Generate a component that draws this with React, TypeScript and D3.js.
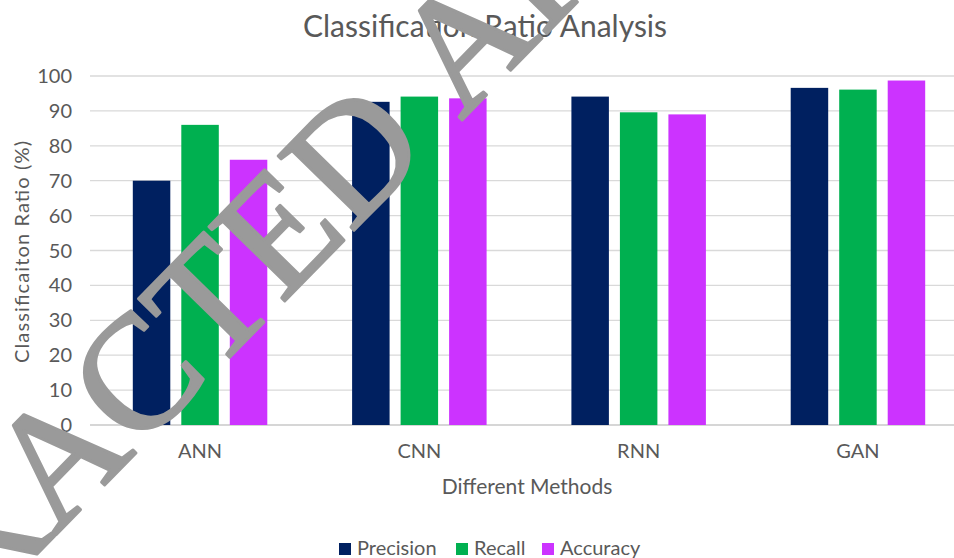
import React from 'react';
import * as d3 from 'd3';

const categories = ['ANN', 'CNN', 'RNN', 'GAN'];
const seriesNames = ['Precision', 'Recall', 'Accuracy'];
const precision = [70, 92.6, 94.1, 96.6];
const recall = [86, 94.1, 89.6, 96.1];
const accuracy = [76, 93.6, 89, 98.7];
const yTicks = [0, 10, 20, 30, 40, 50, 60, 70, 80, 90, 100];
const seriesColors = ['#002060', '#00B050', '#CC33FF'];

const W = 954;
const H = 558;
const FONT = 'Lato, "Open Sans", sans-serif';
const TEXT = '#595959';
const STAMP_SIZE = 162;

export default function App() {
  const series = [precision, recall, accuracy];
  const y = d3.scaleLinear().domain([0, 100]).range([425, 76]);
  const x0 = d3.scaleBand<string>().domain(categories).range([90.4, 967.6]).padding(0);
  const groupW = 145.5;
  const x1 = d3
    .scaleBand<string>()
    .domain(seriesNames)
    .range([0, groupW])
    .paddingInner(0.227)
    .paddingOuter(0.1135);
  const groupOffset = (x0.bandwidth() - groupW) / 2;

  const legendItems = [
    { name: 'Precision', x: 339 },
    { name: 'Recall', x: 456 },
    { name: 'Accuracy', x: 542 },
  ];

  return (
    <svg
      width={W}
      height={H}
      viewBox={`0 0 ${W} ${H}`}
      style={{ position: 'absolute', left: 0, top: 0, background: '#fff' }}
    >
      <rect x={0} y={0} width={W} height={H} fill="#fff" />

      {/* title */}
      <text x={485} y={37} textAnchor="middle" fontFamily={FONT} fontSize={30} fill={TEXT}>
        Classification Ratio Analysis
      </text>

      {/* gridlines */}
      {yTicks.map((t) => (
        <line
          key={`g${t}`}
          x1={90}
          x2={W}
          y1={y(t)}
          y2={y(t)}
          stroke={t === 0 ? '#c9c9c9' : '#d9d9d9'}
          strokeWidth={1.3}
        />
      ))}

      {/* y tick labels */}
      {yTicks.map((t) => (
        <text
          key={`t${t}`}
          x={72}
          y={y(t) + 7}
          textAnchor="end"
          fontFamily={FONT}
          fontSize={20}
          fill={TEXT}
        >
          {t}
        </text>
      ))}

      {/* bars */}
      {categories.map((c, ci) => (
        <g key={c} transform={`translate(${x0(c)! + groupOffset},0)`}>
          {seriesNames.map((s, si) => (
            <rect
              key={s}
              x={x1(s)!}
              y={y(series[si][ci])}
              width={x1.bandwidth()}
              height={y(0) - y(series[si][ci])}
              fill={seriesColors[si]}
            />
          ))}
        </g>
      ))}

      {/* category labels */}
      {categories.map((c) => (
        <text
          key={`c${c}`}
          x={x0(c)! + x0.bandwidth() / 2}
          y={458}
          textAnchor="middle"
          fontFamily={FONT}
          fontSize={20}
          fill={TEXT}
        >
          {c}
        </text>
      ))}

      {/* axis titles */}
      <text x={527} y={494} textAnchor="middle" fontFamily={FONT} fontSize={21} fill={TEXT}>
        Different Methods
      </text>
      <text
        transform="translate(29,252) rotate(-90)"
        textAnchor="middle"
        fontFamily={FONT}
        fontSize={20}
        fill={TEXT}
        textLength={222}
        lengthAdjust="spacing"
      >
        Classificaiton Ratio (%)
      </text>

      {/* legend */}
      {legendItems.map((l, i) => (
        <g key={l.name}>
          <rect x={l.x} y={543} width={12} height={12} fill={seriesColors[i]} />
          <text x={l.x + 18} y={555} fontFamily={FONT} fontSize={20} fill={TEXT}>
            {l.name}
          </text>
        </g>
      ))}

      {/* diagonal stamp */}
      <g
        transform="translate(461,121) rotate(-45.6)"
        fill="#9a9a9a"
        stroke="#9a9a9a"
        strokeWidth={3}
        strokeLinejoin="round"
        fontFamily='"Liberation Serif", "DejaVu Serif", serif'
        fontSize={STAMP_SIZE}
      >
        <text x={-STAMP_SIZE * 0.25} y={0} textAnchor="end">RETRACTED</text>
        <text x={0} y={0} textAnchor="start">ARTICLE</text>
      </g>
    </svg>
  );
}
